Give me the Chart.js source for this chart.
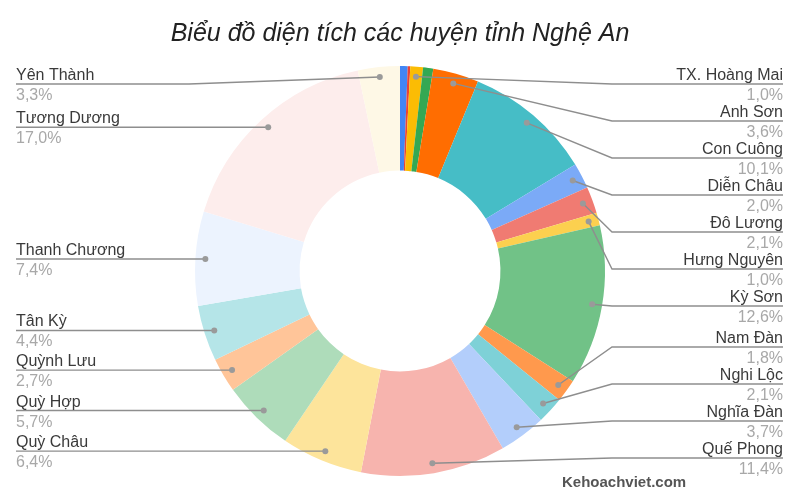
<!DOCTYPE html>
<html>
<head>
<meta charset="utf-8">
<script src="https://cdn.jsdelivr.net/npm/chart.js@4"></script>
<style>
  html, body { margin: 0; padding: 0; background: #fff; }
  #wrap { width: 800px; height: 500px; position: relative; }
</style>
</head>
<body>
<div id="wrap"><canvas id="chart"></canvas></div>
<script>
// --- dữ liệu ---
const districts = [
    'TP. Vinh', 'TX. Cửa Lò', 'TX. Hoàng Mai', 'TX. Thái Hòa',
    'Anh Sơn', 'Con Cuông', 'Diễn Châu', 'Đô Lương', 'Hưng Nguyên',
    'Kỳ Sơn', 'Nam Đàn', 'Nghi Lộc', 'Nghĩa Đàn', 'Quế Phong',
    'Quỳ Châu', 'Quỳ Hợp', 'Quỳnh Lưu', 'Tân Kỳ', 'Thanh Chương',
    'Tương Dương', 'Yên Thành'
];
const areaShare = [
    0.6, 0.2, 1.0, 0.8,
    3.6, 10.1, 2.0, 2.1, 1.0,
    12.6, 1.8, 2.1, 3.7, 11.4,
    6.4, 5.7, 2.7, 4.4, 7.4,
    17.0, 3.3
];
const sliceColors = [
    '#4285F4', '#EA4335', '#FBBC04', '#34A853', '#FF6D01', '#46BDC6',
    '#7BAAF7', '#F07B72', '#FCD04F', '#71C287', '#FF994D', '#7ED1D7',
    '#B3CEFB', '#F7B4AE', '#FDE49B', '#AEDCBA', '#FFC599', '#B5E5E8',
    '#ECF3FE', '#FDEDEC', '#FEF8E6'
];
const chartTitle = 'Biểu đồ diện tích các huyện tỉnh Nghệ An';
const watermark = 'Kehoachviet.com';

// dàn nhãn theo chiều dọc để không chồng lên nhau
function spreadLabels(items, minY, maxY, gap) {
    items.sort((a, b) => a.py - b.py);
    items.forEach(it => { it.y = Math.min(maxY, Math.max(minY, it.py)); });
    for (let i = 1; i < items.length; i++) {
        items[i].y = Math.max(items[i].y, items[i - 1].y + gap);
    }
    for (let i = items.length - 1; i >= 0; i--) {
        const limit = i === items.length - 1 ? maxY : items[i + 1].y - gap;
        items[i].y = Math.min(items[i].y, limit);
    }
}

const outLabels = {
    id: 'outLabels',
    afterDatasetsDraw(chart) {
        const ctx = chart.ctx;
        const meta = chart.getDatasetMeta(0);
        const area = chart.chartArea;
        const total = areaShare.reduce((a, b) => a + b, 0);
        const left = [], right = [];

        meta.data.forEach((arc, i) => {
            const pct = areaShare[i] / total * 100;
            if (pct < 0.95) return;
            const mid = (arc.startAngle + arc.endAngle) / 2;
            const r = arc.outerRadius - 10;
            const item = {
                name: districts[i],
                pct: pct.toFixed(1).replace('.', ',') + '%',
                px: arc.x + Math.cos(mid) * r,
                py: arc.y + Math.sin(mid) * r,
                cx: arc.x
            };
            (item.px >= arc.x ? right : left).push(item);
        });

        spreadLabels(right, area.top + 18, area.bottom - 18, 37);
        spreadLabels(left, area.top + 18, area.bottom - 18, 37);

        ctx.save();
        ctx.font = '16px Arial, "Liberation Sans", sans-serif';
        const drawSide = (items, isRight) => {
            items.forEach(it => {
                const elbow = isRight ? it.cx + 212 : it.cx - 211;
                const end = isRight ? 783 : 16;
                ctx.strokeStyle = '#8e8e8e';
                ctx.lineWidth = 1.4;
                ctx.beginPath();
                ctx.moveTo(it.px, it.py);
                ctx.lineTo(elbow, it.y);
                ctx.lineTo(end, it.y);
                ctx.stroke();

                ctx.fillStyle = '#9a9a9a';
                ctx.beginPath();
                ctx.arc(it.px, it.py, 3, 0, Math.PI * 2);
                ctx.fill();

                ctx.textAlign = isRight ? 'right' : 'left';
                ctx.textBaseline = 'alphabetic';
                ctx.fillStyle = '#3a3a3a';
                ctx.fillText(it.name, end, it.y - 4);
                ctx.fillStyle = '#a8a8a8';
                ctx.fillText(it.pct, end, it.y + 16);
            });
        };
        drawSide(right, true);
        drawSide(left, false);

        // watermark
        ctx.font = 'bold 15px Arial, "Liberation Sans", sans-serif';
        ctx.fillStyle = '#555555';
        ctx.textAlign = 'left';
        ctx.fillText(watermark, 562, 487);
        ctx.restore();
    }
};

new Chart(document.getElementById('chart'), {
    type: 'doughnut',
    data: {
        labels: districts,
        datasets: [{
            data: areaShare,
            backgroundColor: sliceColors,
            borderWidth: 0
        }]
    },
    options: {
        responsive: true,
        maintainAspectRatio: false,
        animation: false,
        cutout: '49%',
        layout: { padding: { top: 0, bottom: 24, left: 0, right: 0 } },
        plugins: {
            legend: { display: false },
            tooltip: { enabled: false },
            title: {
                display: true,
                text: chartTitle,
                color: '#222222',
                font: { family: 'Arial, "Liberation Sans", sans-serif', size: 25, style: 'italic', weight: 'normal' },
                padding: { top: 19, bottom: 17 }
            }
        }
    },
    plugins: [outLabels]
});
</script>
</body>
</html>
